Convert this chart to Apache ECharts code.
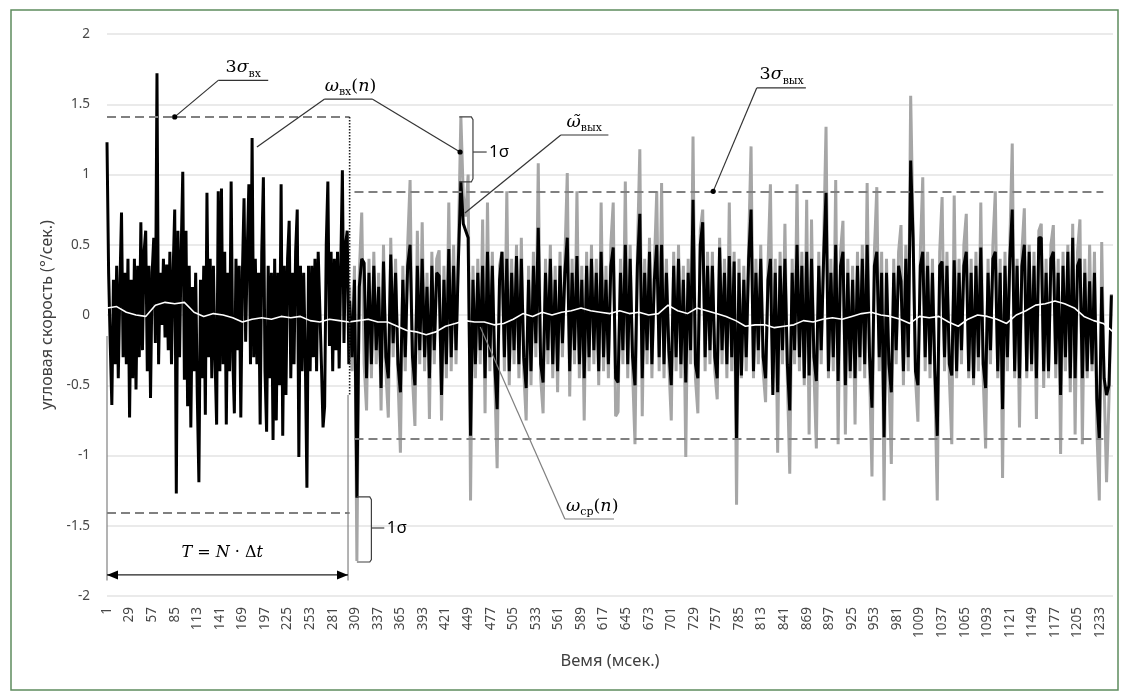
<!DOCTYPE html>
<html>
<head>
<meta charset="utf-8">
<script src="https://cdn.jsdelivr.net/npm/echarts@6/dist/echarts.min.js"></script>
<style>
  html, body { margin: 0; padding: 0; background: #fff; }
  #chart { width: 1124px; height: 697px; }
</style>
</head>
<body>
<div id="chart"></div>
<script>
// time axis, ms
const categories = []
for (let i = 1; i <= 1249; i++) categories.push(String(i))

// ω_вх(n) before the filter starts: every 2nd sample from 1 ms
const headStep = 2
const inputHead = [
  1.23, 0.30, -0.20, -0.64, 0.25, -0.35, 0.35, -0.45, 0.20, 0.73,
  -0.30, 0.30, -0.35, 0.40, -0.73, 0.25, -0.45, 0.40, -0.53, 0.35,
  -0.30, 0.66, -0.25, 0.45, 0.60, -0.40, 0.35, -0.59, 0.30, 0.55,
  -0.20, 1.72, -0.35, 0.30, -0.07, 0.40, -0.16, 0.36, -0.25, 0.45,
  -0.35, 0.30, 0.75, -1.27, 0.60, -0.30, 0.45, 1.02, -0.46, 0.60,
  -0.65, 0.35, -0.80, 0.20, -0.40, 0.30, -0.57, -1.19, 0.25, -0.45,
  0.35, -0.71, 0.87, -0.30, 0.40, -0.45, 0.35, -0.30, -0.78, 0.88,
  -0.40, 0.90, -0.35, 0.45, -0.78, 0.30, -0.40, 0.95, -0.30, -0.70,
  0.40, -0.25, 0.35, -0.73, 0.30, 0.83, -0.19, 0.45, 0.93, -0.35,
  1.26, -0.30, 0.40, -0.35, 0.30, -0.78, 0.45, 0.98, -0.40, -0.83,
  0.35, -0.45, 0.30, -0.89, 0.40, -0.75, 0.30, -0.50, 0.93, -0.86,
  0.35, -0.57, 0.40, 0.67, -0.45, 0.30, -0.35, 0.45, 0.75, -1.01,
  0.35, -0.40, 0.30, -0.30, -1.23, 0.35, -0.40, 0.35, -0.30, 0.40,
  -0.40, 0.45, 0.44, -0.35, -0.80, -0.65, 0.50, 0.95, -0.22, 0.45,
  -0.40, 0.40, -0.25, 0.45, -0.38, 0.35, 1.03, -0.20, 0.50, 0.60,
  -0.35
]

// after 302 ms: every 3rd sample
const tailStart = 301
const tailStep = 3
// ω_вх(n), grey
const inputTail = [
  0.20, -0.40, 0.35, -1.75, 0.30, 0.73, -0.35, -0.68, 0.40, -0.45,
  0.45, -0.35, 0.30, -0.68, 0.50, -0.40, -0.73, 0.55, -0.30, 0.40,
  -0.45, -0.98, 0.35, -0.40, 0.50, 0.96, -0.45, -0.79, 0.60, -0.35,
  0.66, -0.40, 0.30, -0.74, 0.45, -0.35, 0.40, 0.46, -0.75, 0.35,
  -0.45, 0.80, -0.40, 0.50, -0.35, 0.55, 1.41, 0.85, 0.70, 1.00,
  -1.32, 0.35, -0.45, 0.40, -0.35, 0.68, -0.70, 0.80, -0.40, 0.45,
  -0.45, -1.09, 0.35, 0.45, -0.40, 0.88, -0.50, 0.40, -0.35, 0.50,
  -0.45, 0.55, -0.40, -0.75, 0.35, -0.50, 0.45, -0.30, 1.08, -0.45,
  -0.70, 0.40, -0.35, 0.50, -0.45, 0.35, -0.55, 0.45, -0.30, 0.40,
  1.01, -0.58, 0.40, -0.35, 0.88, -0.45, 0.35, -0.75, 0.45, -0.40,
  0.50, -0.35, 0.40, -0.50, 0.80, -0.40, 0.35, -0.45, 0.50, 0.80,
  -0.72, -0.69, 0.40, -0.35, 0.95, -0.45, 0.50, -0.40, -0.92, 0.45,
  1.18, -0.72, 0.40, -0.35, 0.55, -0.45, 0.35, 0.88, -0.40, 0.94,
  -0.45, 0.40, -0.35, -0.75, 0.45, -0.40, 0.50, -0.45, 0.35, -1.01,
  0.40, -0.35, 1.27, -0.45, -0.70, 0.60, 0.75, -0.40, 0.45, -0.35,
  0.45, -0.40, -0.60, 0.55, -0.35, 0.40, -0.45, 0.80, -0.40, 0.45,
  -1.35, 0.40, -0.45, 0.35, -0.40, 0.50, 1.20, -0.45, 0.40, -0.35,
  0.50, -0.40, -0.62, 0.35, 0.93, -0.45, 0.40, -0.98, 0.45, -0.35,
  0.65, -0.45, -1.13, 0.40, -0.35, 0.93, -0.40, 0.45, -0.50, 0.82,
  -0.85, 0.68, -0.40, -0.95, 0.45, -0.35, 0.50, 1.34, -0.45, 0.40,
  -0.40, 0.96, -0.92, 0.45, 0.67, -0.85, 0.40, -0.45, 0.35, -0.78,
  0.45, -0.40, 0.50, -0.45, 0.94, -0.40, -1.15, 0.45, 0.91, -0.40,
  0.45, -1.32, 0.40, -0.45, -1.06, 0.40, -0.35, 0.45, 0.64, -0.50,
  0.50, -0.40, 1.56, 0.60, -0.45, -0.76, 0.45, 0.98, -0.40, 0.45,
  -0.45, 0.40, -0.50, -1.32, 0.45, 0.84, -0.40, 0.45, -0.45, -0.92,
  0.85, -0.45, 0.40, -0.35, 0.50, 0.72, -0.45, 0.40, -0.50, 0.45,
  -0.40, 0.80, -0.45, -0.95, 0.40, -0.35, 0.50, 0.88, -0.45, 0.40,
  -1.16, 0.45, -0.40, 0.50, 1.22, -0.45, 0.40, -0.80, 0.45, 0.76,
  -0.45, 0.50, -0.40, 0.45, -0.74, 0.60, 0.65, -0.52, 0.40, -0.45,
  0.50, 0.64, -0.45, 0.40, -0.99, 0.45, -0.40, 0.50, -0.55, 0.65,
  -0.85, 0.45, 0.68, -0.92, 0.40, -0.45, 0.50, -0.40, 0.45, -0.82,
  -1.32, 0.52, -0.50, -1.19, -0.60, 0.15
]
// ω̃_вых(n), black
const outputTail = [
  0.10, -0.30, 0.25, -1.30, 0.20, 0.40, 0.37, -0.45, 0.30, -0.35,
  0.35, -0.25, 0.20, -0.52, 0.38, -0.30, -0.45, 0.43, -0.20, 0.30,
  -0.35, -0.55, 0.25, -0.30, 0.35, 0.50, -0.30, -0.50, 0.35, -0.25,
  0.40, -0.30, 0.20, -0.45, 0.35, -0.25, 0.30, 0.28, -0.57, 0.25,
  -0.35, 0.47, -0.30, 0.35, -0.25, 0.40, 0.95, 0.65, 0.60, 0.55,
  -0.86, 0.25, -0.35, 0.30, -0.25, 0.35, -0.45, 0.45, -0.30, 0.35,
  -0.35, -0.67, 0.25, 0.45, -0.30, 0.40, -0.40, 0.30, -0.25, 0.42,
  -0.35, 0.40, -0.30, -0.52, 0.25, -0.40, 0.35, -0.20, 0.62, -0.35,
  -0.48, 0.30, -0.25, 0.40, -0.35, 0.25, -0.40, 0.35, -0.20, 0.30,
  0.55, -0.40, 0.30, -0.25, 0.42, -0.35, 0.25, -0.45, 0.35, -0.30,
  0.40, -0.25, 0.30, -0.40, 0.45, -0.30, 0.25, -0.35, 0.35, 0.48,
  -0.45, -0.48, 0.30, -0.25, 0.50, -0.35, 0.40, -0.30, -0.50, 0.35,
  0.72, -0.45, 0.30, -0.25, 0.45, -0.35, 0.25, 0.50, -0.30, 0.50,
  -0.35, 0.30, -0.25, -0.50, 0.35, -0.30, 0.40, -0.35, 0.25, -0.48,
  0.30, -0.25, 0.82, -0.35, -0.45, 0.50, 0.66, -0.30, 0.35, -0.25,
  0.35, -0.30, -0.45, 0.48, -0.25, 0.30, -0.35, 0.42, -0.30, 0.38,
  -0.88, 0.30, -0.43, 0.25, -0.30, 0.40, 0.75, -0.40, 0.30, -0.25,
  0.40, -0.30, -0.45, 0.25, 0.40, -0.57, 0.30, -0.55, 0.35, -0.25,
  0.40, -0.35, -0.68, 0.30, -0.25, 0.50, -0.30, 0.35, -0.45, 0.45,
  -0.43, 0.40, -0.30, -0.47, 0.35, -0.25, 0.40, 0.87, -0.40, 0.30,
  -0.30, 0.50, -0.47, 0.35, 0.45, -0.50, 0.30, -0.40, 0.25, -0.45,
  0.35, -0.30, 0.40, -0.35, 0.50, -0.30, -0.66, 0.35, 0.45, -0.30,
  0.30, -0.87, 0.30, -0.35, -0.55, 0.30, -0.25, 0.35, 0.24, -0.40,
  0.40, -0.30, 1.10, 0.55, -0.40, -0.50, 0.35, 0.45, -0.30, 0.35,
  -0.35, 0.30, -0.40, -0.86, 0.35, 0.38, -0.30, 0.35, -0.35, -0.43,
  0.39, -0.40, 0.30, -0.25, 0.35, 0.45, -0.40, 0.30, -0.45, 0.35,
  -0.30, 0.48, -0.35, -0.52, 0.30, -0.25, 0.40, 0.45, -0.40, 0.30,
  -0.67, 0.35, -0.30, 0.40, 0.75, -0.40, 0.35, -0.45, 0.35, 0.50,
  -0.40, 0.45, -0.35, 0.35, -0.45, 0.55, 0.55, -0.40, 0.30, -0.40,
  0.40, 0.45, -0.35, 0.30, -0.57, 0.35, -0.30, 0.45, -0.45, 0.55,
  -0.45, 0.35, 0.40, -0.45, 0.30, -0.40, 0.24, -0.35, 0.30, -0.60,
  -0.88, 0.20, -0.45, -0.57, -0.50, 0.14
]

// ω_ср(n), every 12th sample
const meanStep = 12
const meanLine = [
  0.05, 0.06, 0.02, 0.00, -0.01, 0.07, 0.09, 0.08, 0.09, 0.02,
  -0.01, 0.01, 0.00, -0.02, -0.05, -0.03, -0.02, -0.03, -0.01, -0.02,
  -0.01, -0.04, -0.05, -0.03, -0.04, -0.05, -0.04, -0.03, -0.05, -0.05,
  -0.08, -0.11, -0.12, -0.14, -0.12, -0.08, -0.06, -0.04, -0.05, -0.05,
  -0.07, -0.06, -0.03, 0.01, -0.01, 0.02, 0.00, 0.02, 0.03, 0.05,
  0.03, 0.02, 0.01, 0.03, 0.01, 0.02, 0.00, 0.01, 0.07, 0.03,
  0.01, 0.05, 0.03, 0.01, -0.01, -0.04, -0.08, -0.07, -0.07, -0.09,
  -0.08, -0.07, -0.04, -0.05, -0.03, -0.02, -0.03, -0.01, 0.01, 0.02,
  0.00, -0.01, -0.03, -0.06, -0.01, -0.02, -0.01, -0.05, -0.08, -0.03,
  0.00, -0.01, -0.03, -0.06, 0.00, 0.03, 0.07, 0.08, 0.10, 0.08,
  0.05, -0.01, -0.04, -0.06, -0.12
]

// 3σ limits and their spans (category indexes)
const sigma3In = 1.41
const sigma3Out = 0.88
const spanIn = [0, 301]
const spanOut = [307, 1236]

const chart = echarts.init(document.getElementById('chart'))

const headData = inputHead.map((v, i) => [i * headStep, v])
const inTailData = inputTail.map((v, i) => [tailStart + i * tailStep, v])
const outTailData = outputTail.map((v, i) => [tailStart + i * tailStep, v])
const meanData = meanLine.map((v, i) => [i * meanStep, v])

const tickFont = 'Noto Sans'
const dash = { type: [9, 5], color: '#808080', width: 2 }

chart.setOption({
  animation: false,
  backgroundColor: '#fff',
  grid: { left: 107, right: 11, top: 34, bottom: 101, containLabel: false, outerBoundsMode: 'none' },
  xAxis: {
    type: 'category',
    data: categories,
    boundaryGap: false,
    name: 'Вемя (мсек.)',
    nameLocation: 'middle',
    nameGap: 57,
    nameTextStyle: { fontFamily: tickFont, fontSize: 16.5, color: '#404040' },
    axisLine: { show: false },
    axisTick: { show: false },
    axisLabel: { interval: 27, rotate: 90, margin: 11, fontFamily: tickFont, fontSize: 13.5, color: '#474747' }
  },
  yAxis: {
    type: 'value',
    min: -2, max: 2, interval: 0.5,
    name: 'угловая скорость (°/сек.)',
    nameLocation: 'middle',
    nameGap: 49,
    nameTextStyle: { fontFamily: tickFont, fontSize: 16, color: '#404040' },
    axisLine: { show: false },
    axisTick: { show: false },
    axisLabel: { margin: 17, fontFamily: tickFont, fontSize: 13.5, color: '#474747' },
    splitLine: { lineStyle: { color: '#e3e3e3', width: 1.5 } }
  },
  series: [
    {
      name: 'ω вх (после)', type: 'line', data: inTailData, showSymbol: false, z: 2,
      lineStyle: { color: '#a6a6a6', width: 3 }
    },
    {
      name: 'ω вх', type: 'line', data: headData, showSymbol: false, z: 3,
      lineStyle: { color: '#000', width: 3 }
    },
    {
      name: 'ω вых', type: 'line', data: outTailData, showSymbol: false, z: 3,
      lineStyle: { color: '#000', width: 3 }
    },
    {
      name: 'ω ср', type: 'line', data: meanData, showSymbol: false, z: 4,
      lineStyle: { color: '#ffffff', width: 1.6 },
      markLine: {
        silent: true, symbol: 'none', label: { show: false }, lineStyle: dash,
        data: [
          [{ coord: [spanIn[0], sigma3In] }, { coord: [spanIn[1], sigma3In] }],
          [{ coord: [spanIn[0], -sigma3In] }, { coord: [spanIn[1], -sigma3In] }],
          [{ coord: [spanOut[0], sigma3Out] }, { coord: [spanOut[1], sigma3Out] }],
          [{ coord: [spanOut[0], -sigma3Out] }, { coord: [spanOut[1], -sigma3Out] }]
        ]
      }
    }
  ]
})

// annotations, anchored in data units [category index, value]
const pt = p => chart.convertToPixel({ gridIndex: 0 }, p)
const lead = '#333333'
const serif = 'DejaVu Serif'
function mathRich(size) {
  return {
    m: { fontFamily: serif, fontStyle: 'italic', fontSize: size, lineHeight: size + 6, fill: '#000', color: '#000' },
    u: { fontFamily: serif, fontSize: size, lineHeight: size + 6, fill: '#000', color: '#000' },
    s: { fontFamily: serif, fontSize: Math.round(size * 0.62), lineHeight: Math.round(size * 0.7), verticalAlign: 'bottom', fill: '#000', color: '#000' }
  }
}
const richBig = mathRich(17.5)
const richT = mathRich(16)

function seg(a, b, color, width, lineDash) {
  const A = pt(a), B = pt(b)
  return {
    type: 'line', z: 100, silent: true,
    shape: { x1: A[0], y1: A[1], x2: B[0], y2: B[1] },
    style: { stroke: color, lineWidth: width, lineDash: lineDash || null }
  }
}
function poly(points, color, width) {
  return {
    type: 'polyline', z: 100, silent: true,
    shape: { points: points.map(pt) },
    style: { stroke: color, lineWidth: width, fill: null }
  }
}
function dot(p) {
  const A = pt(p)
  return { type: 'circle', z: 101, silent: true, shape: { cx: A[0], cy: A[1], r: 2.6 }, style: { fill: '#000' } }
}
function mathText(p, text, align, vAlign, rich) {
  const A = pt(p)
  return {
    type: 'text', z: 101, silent: true, x: A[0], y: A[1],
    style: { text: text, rich: rich || richBig, align: align, verticalAlign: vAlign, textAlign: align, textVerticalAlign: vAlign }
  }
}
function plainText(p, text) {
  const A = pt(p)
  return {
    type: 'text', z: 101, silent: true, x: A[0], y: A[1],
    style: { text: text, font: '17px "Noto Sans"', fill: '#000', align: 'left', verticalAlign: 'middle', textAlign: 'left', textVerticalAlign: 'middle' }
  }
}
function arrowHead(p, dir) {
  const A = pt(p)
  return {
    type: 'polygon', z: 101, silent: true,
    shape: { points: [[A[0], A[1]], [A[0] + dir * 11, A[1] - 4.5], [A[0] + dir * 11, A[1] + 4.5]] },
    style: { fill: '#000' }
  }
}

const g = []
// 3σ вх
g.push(seg([138, 1.67], [200, 1.67], lead, 1.2), seg([138, 1.67], [84, 1.41], lead, 1.2), dot([84, 1.41]))
g.push(mathText([169, 1.675], '{u|3}{m|σ}{s|вх}', 'center', 'bottom'))
// ω вх(n)
g.push(seg([270, 1.537], [329, 1.537], lead, 1.2), seg([270, 1.537], [186, 1.196], lead, 1.2),
  seg([329, 1.537], [438, 1.16], lead, 1.2), dot([438, 1.16]))
g.push(mathText([302, 1.545], '{m|ω}{s|вх}{u|(}{m|n}{u|)}', 'center', 'bottom'))
// ω̃ вых
g.push(seg([563, 1.281], [622, 1.281], lead, 1.2), seg([563, 1.281], [444, 0.726], lead, 1.2))
g.push(mathText([592, 1.29], '{m|ω̃}{s|вых}', 'center', 'bottom'))
// 3σ вых
g.push(seg([806, 1.616], [867, 1.616], lead, 1.2), seg([806, 1.616], [752, 0.88], lead, 1.2), dot([752, 0.88]))
g.push(mathText([837, 1.625], '{u|3}{m|σ}{s|вых}', 'center', 'bottom'))
// ω ср(n)
g.push(seg([568, -1.452], [629, -1.452], '#7f7f7f', 1.2), seg([568, -1.452], [463, -0.085], '#7f7f7f', 1.2))
g.push(mathText([602, -1.445], '{m|ω}{s|ср}{u|(}{m|n}{u|)}', 'center', 'bottom'))
// 1σ brackets
g.push(poly([[437, 1.41], [452, 1.41], [454, 1.39], [454, 0.97], [452, 0.947], [437, 0.947]], '#404040', 1.2),
  seg([454, 1.16], [471, 1.16], '#404040', 1.2), plainText([474, 1.16], '1σ'))
g.push(poly([[310, -1.295], [326, -1.295], [328, -1.315], [328, -1.74], [326, -1.758], [310, -1.758]], '#404040', 1.2),
  seg([328, -1.516], [344, -1.516], '#404040', 1.2), plainText([347, -1.516], '1σ'))
// T = N·Δt window
g.push(seg([0, -0.15], [0, -1.89], '#808080', 1.2), seg([299, -0.57], [299, -1.89], '#808080', 1.2),
  seg([301, 1.41], [301, -0.57], '#222', 1.6, [1.5, 1.5]))
g.push(seg([0, -1.85], [299, -1.85], '#222', 1.2), arrowHead([0, -1.85], 1), arrowHead([299, -1.85], -1))
g.push(mathText([143, -1.69], '{m|T}{u| = }{m|N}{u| · Δ}{m|t}', 'center', 'middle', richT))
// outer frame
g.push({ type: 'rect', z: 0, silent: true, shape: { x: 11, y: 10, width: 1107, height: 680 },
  style: { fill: null, stroke: '#5e8c5e', lineWidth: 1.5 } })

chart.setOption({ graphic: { elements: g } })
</script>
</body>
</html>
